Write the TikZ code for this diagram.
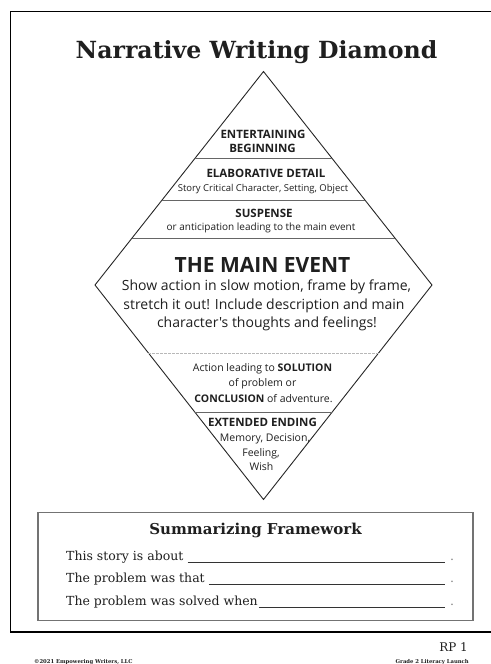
\documentclass[tikz,border=0pt]{standalone}
\usepackage{fontspec}
\newfontfamily\dsans{Open Sans}
\newfontfamily\pserif{DejaVu Serif}
\usetikzlibrary{calc}
\begin{document}
\begin{tikzpicture}[x=1pt,y=-1pt,
  every node/.style={inner sep=0pt,text=black!88},
  dbold/.style={anchor=base,font=\dsans\bfseries\fontsize{11.5}{13}\selectfont},
  dtext/.style={anchor=base,font=\dsans\fontsize{10.5}{12}\selectfont},
  dsmall/.style={anchor=base,font=\dsans\fontsize{9.5}{11}\selectfont},
  dbig/.style={anchor=base,font=\dsans\fontsize{14}{16}\selectfont},
  outline/.style={draw=black!85,line width=0.9pt,line join=miter},
  divider/.style={draw=black!60,line width=0.8pt},
  faint/.style={draw=black!28,line width=0.6pt,dash pattern=on 2.5pt off 1.5pt},
  sline/.style={anchor=base west,font=\pserif\fontsize{12.5}{15}\selectfont},
  blank/.style={draw=black!80,line width=0.6pt}]

\useasboundingbox (0,0) rectangle (490,664);
\fill[white] (0,0) rectangle (490,664);

% page frame, open on the right
\draw[line width=1.4pt] (491,11.5) -- (10.5,11.5) -- (10.5,632) -- (491,632);

% heading
\node[anchor=base,font=\pserif\bfseries\fontsize{23.6}{28}\selectfont] (title) at (256.5,58) {Narrative Writing Diamond};

% the diamond and its dividing lines
\coordinate (T) at (263.5,71.5);
\coordinate (R) at (432,285);
\coordinate (B) at (263.5,499.5);
\coordinate (L) at (95,285);
\draw[outline] (T) -- (R) -- (B) -- (L) -- cycle;
\draw[divider] ($(T)!0.4066!(L)$) -- ($(T)!0.4066!(R)$);
\draw[divider] ($(T)!0.6019!(L)$) -- ($(T)!0.6019!(R)$);
\draw[divider] ($(T)!0.7799!(L)$) -- ($(T)!0.7799!(R)$);
\draw[faint]   ($(B)!0.683!(L)$) -- ($(B)!0.683!(R)$);
\draw[divider] ($(B)!0.408!(L)$) -- ($(B)!0.408!(R)$);

% top sections
\node[dbold] (beg1) at (263,138) {ENTERTAINING};
\node[dbold] (beg2) at (262.5,152) {BEGINNING};
\node[dbold] (elab) at (266,177) {ELABORATIVE DETAIL};
\node[dsmall] (elabsub) at (263,191) {Story Critical Character, Setting, Object};
\node[dbold] (susp) at (264,217) {SUSPENSE};
\node[anchor=base,font=\dsans\fontsize{10}{11}\selectfont] (suspsub) at (261,230) {or anticipation leading to the main event};

% main event
\node[anchor=base,font=\dsans\bfseries\fontsize{21}{24}\selectfont] (main) at (262.5,272) {THE MAIN EVENT};
\node[dbig] (main1) at (266.5,290.5) {Show action in slow motion, frame by frame,};
\node[dbig] (main2) at (264,309) {stretch it out! Include description and main};
\node[dbig] (main3) at (267,327.5) {character's thoughts and feelings!};

% solution
\node[dtext] (sol1) at (262.5,371) {Action leading to \textbf{SOLUTION}};
\node[dtext] (sol2) at (262.5,386.5) {of problem or};
\node[dtext] (sol3) at (263.5,402) {\textbf{CONCLUSION} of adventure.};

% ending
\node[dbold] (end) at (262.5,426) {EXTENDED ENDING};
\node[dtext] (end1) at (265,441) {Memory, Decision,};
\node[dtext] (end2) at (261,456) {Feeling,};
\node[dtext] (end3) at (261.5,470) {Wish};

% summarizing framework
\draw[draw=black!55,line width=1.1pt] (38,512.5) rectangle (473,620.5);
\node[anchor=base,font=\pserif\bfseries\fontsize{15}{18}\selectfont] (sumtitle) at (255.5,534) {Summarizing Framework};

\coordinate (e1) at (445,562);
\coordinate (e2) at (445,584.5);
\coordinate (e3) at (445,607);

\node[sline] (s1) at (66,560) {This story is about};
\node[sline] (s2) at (66,582.5) {The problem was that};
\node[sline] (s3) at (66,605) {The problem was solved when};

\draw[blank] ([xshift=4pt]s1.base east |- e1) -- (e1);
\draw[blank] ([xshift=4pt]s2.base east |- e2) -- (e2);
\draw[blank] ([xshift=1pt]s3.base east |- e3) -- (e3);

\node[sline,text=black!50] (d1) at (450,560) {.};
\node[sline,text=black!50] (d2) at (450,582.5) {.};
\node[sline,text=black!50] (d3) at (450,605) {.};

% footer
\node[anchor=base east,font=\pserif\fontsize{11.9}{14}\selectfont] (rp) at (468,651) {RP 1};
\node[anchor=base east,font=\pserif\bfseries\fontsize{5.3}{7}\selectfont] (grade) at (469,663) {Grade 2 Literacy Launch};
\node[anchor=base west,font=\pserif\bfseries\fontsize{5.3}{7}\selectfont] (copy) at (34,663) {\textcopyright 2021 Empowering Writers, LLC};
\end{tikzpicture}
\end{document}
